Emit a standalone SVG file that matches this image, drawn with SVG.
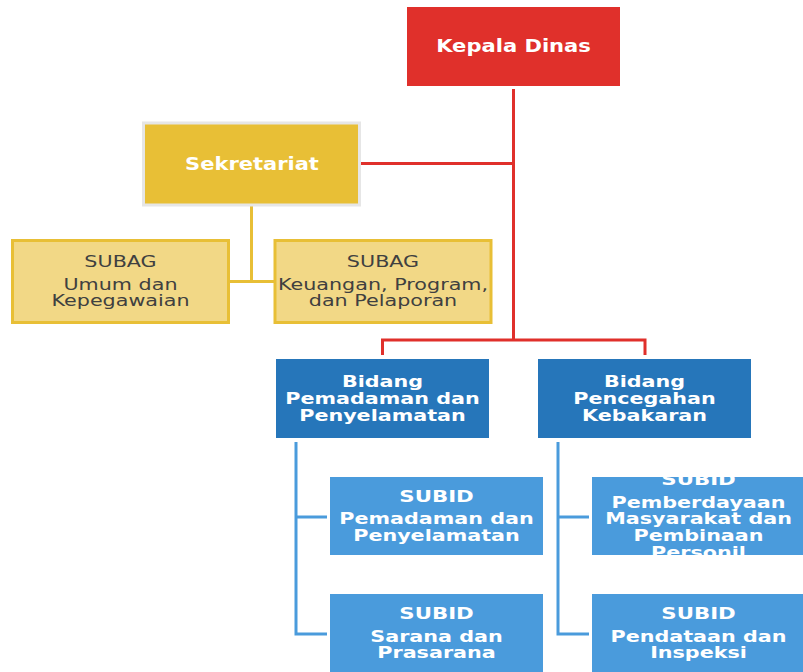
<svg xmlns="http://www.w3.org/2000/svg" width="803" height="672" viewBox="0 0 803 672">
<style>
text{font-family:"DejaVu Sans","Liberation Sans",sans-serif;text-anchor:middle}
.b{font-weight:bold;fill:#ffffff}
.t1{font-size:17px}
.t2{font-size:15px}
.sg{font-size:15px;fill:#404040}
.red{fill:none;stroke:#E0302B;stroke-width:3}
.yl{fill:none;stroke:#E8BF36;stroke-width:3}
.bl{fill:none;stroke:#4A9BDC;stroke-width:3}
.dk{fill:#2676BA}
.lt{fill:#4A9BDC}
.sub{fill:#F2D886;stroke:#E8BF36;stroke-width:3}
</style>
<defs>
<clipPath id="c1"><rect x="592" y="477" width="213" height="78"/></clipPath>
</defs>
<rect width="803" height="672" fill="#ffffff"/>
<g id="connectors">
<path class="red" d="M513.5 89V340M361 163.5H513.5M382.5 355V340H645V355"/>
<path class="yl" d="M251.5 206V281.5M230 281.5H274"/>
<path class="bl" d="M296 442V634H327M296 517H327"/>
<path class="bl" d="M558 442V634H589M558 517H589"/>
</g>
<g id="kepala">
<rect x="407" y="7" width="213" height="79" fill="#E0302B"/>
<text class="b t1" transform="translate(513.5 52) scale(1.24 1)">Kepala Dinas</text>
</g>
<g id="sekretariat">
<rect x="143.5" y="123" width="216" height="82" fill="#E8BF36" stroke="#E6E6E6" stroke-width="3"/>
<text class="b" font-size="17.5" transform="translate(252 170) scale(1.2 1)">Sekretariat</text>
</g>
<g id="subag1">
<rect class="sub" x="12.5" y="240.5" width="216" height="82"/>
<text class="sg" transform="translate(120.5 267) scale(1.38 1)">SUBAG</text>
<text class="sg" transform="translate(120.5 290) scale(1.38 1)">Umum dan</text>
<text class="sg" transform="translate(120.5 306) scale(1.38 1)">Kepegawaian</text>
</g>
<g id="subag2">
<rect class="sub" x="275" y="240.5" width="216" height="82"/>
<text class="sg" transform="translate(383 267) scale(1.38 1)">SUBAG</text>
<text class="sg" transform="translate(383 290) scale(1.38 1)">Keuangan, Program,</text>
<text class="sg" transform="translate(383 306) scale(1.38 1)">dan Pelaporan</text>
</g>
<g id="bidang1">
<rect class="dk" x="276" y="359" width="213" height="79"/>
<text class="b t2" transform="translate(382.5 387) scale(1.38 1)">Bidang</text>
<text class="b t2" transform="translate(382.5 404) scale(1.38 1)">Pemadaman dan</text>
<text class="b t2" transform="translate(382.5 421) scale(1.38 1)">Penyelamatan</text>
</g>
<g id="bidang2">
<rect class="dk" x="538" y="359" width="213" height="79"/>
<text class="b t2" transform="translate(644.5 387) scale(1.38 1)">Bidang</text>
<text class="b t2" transform="translate(644.5 404) scale(1.38 1)">Pencegahan</text>
<text class="b t2" transform="translate(644.5 421) scale(1.38 1)">Kebakaran</text>
</g>
<g id="subid1">
<rect class="lt" x="330" y="477" width="213" height="78"/>
<text class="b t2" transform="translate(436.5 501.5) scale(1.42 1)">SUBID</text>
<text class="b t2" transform="translate(436.5 524) scale(1.38 1)">Pemadaman dan</text>
<text class="b t2" transform="translate(436.5 540.5) scale(1.38 1)">Penyelamatan</text>
</g>
<g id="subid2">
<rect class="lt" x="592" y="477" width="213" height="78"/>
<g clip-path="url(#c1)">
<text class="b t2" transform="translate(698.5 485) scale(1.42 1)">SUBID</text>
<text class="b t2" transform="translate(698.5 508) scale(1.38 1)">Pemberdayaan</text>
<text class="b t2" transform="translate(698.5 524) scale(1.38 1)">Masyarakat dan</text>
<text class="b t2" transform="translate(698.5 541) scale(1.38 1)">Pembinaan</text>
<text class="b t2" transform="translate(698.5 558) scale(1.38 1)">Personil</text>
</g>
</g>
<g id="subid3">
<rect class="lt" x="330" y="594" width="213" height="78"/>
<text class="b t2" transform="translate(436.5 619) scale(1.42 1)">SUBID</text>
<text class="b t2" transform="translate(436.5 641.5) scale(1.38 1)">Sarana dan</text>
<text class="b t2" transform="translate(436.5 657.5) scale(1.38 1)">Prasarana</text>
</g>
<g id="subid4">
<rect class="lt" x="592" y="594" width="213" height="78"/>
<text class="b t2" transform="translate(698.5 619) scale(1.42 1)">SUBID</text>
<text class="b t2" transform="translate(698.5 641.5) scale(1.38 1)">Pendataan dan</text>
<text class="b t2" transform="translate(698.5 657.5) scale(1.38 1)">Inspeksi</text>
</g>
</svg>
